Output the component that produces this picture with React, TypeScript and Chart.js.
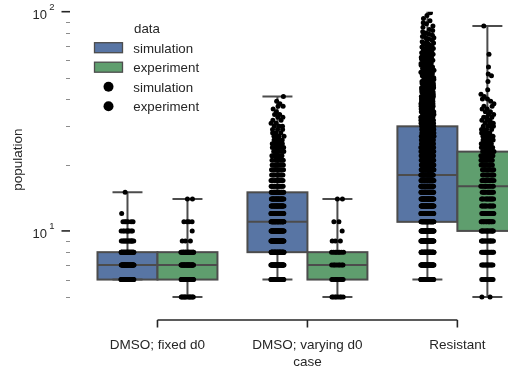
import React, { useEffect, useRef } from 'react';
import { Chart, registerables } from 'chart.js';

Chart.register(...registerables);

// ---------- data ----------
const categories = ['DMSO; fixed d0', 'DMSO; varying d0', 'Resistant'];
const hueNames = ['simulation', 'experiment'];
const hueColors = ['#5875A4', '#5F9E6E'];
const axisTitleX = 'case';
const axisTitleY = 'population';
const legendTitle = 'data';
const yMajorTicks = [10, 100];
const yMinorTicks = [5, 6, 7, 8, 9, 20, 30, 40, 50, 60, 70, 80, 90];

// population value -> number of observations
const fixedSimValues = [6, 7, 8, 9, 10, 11, 12, 15];
const fixedSimCounts = [38, 40, 35, 14, 9, 6, 1, 1];

const fixedExpValues = [5, 6, 7, 8, 9, 10, 11, 14];
const fixedExpCounts = [12, 25, 30, 25, 3, 1, 4, 2];

const varyingSimValues = [6, 7, 8, 9, 10, 11, 12, 13, 14, 15, 16, 17, 18, 19, 20, 21, 22, 23, 24, 25, 26, 27, 28, 29, 30, 31, 32, 33, 34, 35, 36, 37, 38, 39, 41];
const varyingSimCounts = [35, 45, 50, 45, 40, 38, 32, 28, 25, 22, 14, 12, 11, 9, 8, 7, 7, 6, 5, 5, 4, 4, 3, 3, 3, 2, 2, 2, 2, 1, 1, 2, 1, 1, 1];

const varyingExpValues = [5, 6, 7, 8, 9, 10, 11, 14];
const varyingExpCounts = [8, 10, 8, 8, 3, 1, 2, 2];

const resistantSimValues = [
  6, 7, 8, 9, 10, 11, 12, 13, 14, 15, 16, 17, 18, 19, 20, 21, 22, 23, 24, 25, 26, 27, 28, 29, 30,
  31, 32, 33, 34, 35, 36, 37, 38, 39, 40,
  41, 42, 43, 44, 45, 46, 47, 48, 49, 50,
  51, 52, 53, 54, 55, 56, 57, 58, 59, 60,
  61, 62, 63, 64, 65, 66, 67, 68, 69, 70,
  71, 72, 73, 74, 75, 76, 77, 78, 79, 80,
  81, 82, 83, 85, 86, 88, 89,
  91, 93, 96, 99, 104, 110,
];
const resistantSimCounts = [
  44, 48, 50, 50, 48, 40, 38, 37, 36, 35, 34, 33, 32, 29, 27, 25, 23, 21, 19, 17, 16, 15, 14, 13, 13,
  12, 12, 11, 11, 10, 9, 9, 9, 8, 8,
  8, 7, 6, 6, 6, 5, 5, 5, 5, 4,
  4, 4, 4, 4, 3, 3, 3, 3, 3, 3,
  3, 3, 3, 3, 2, 2, 2, 2, 2, 2,
  2, 2, 1, 2, 1, 2, 1, 1, 2, 1,
  1, 1, 1, 1, 1, 1, 1,
  1, 1, 1, 1, 1, 1,
];

const resistantExpValues = [5, 6, 7, 8, 9, 10, 11, 12, 13, 14, 15, 16, 17, 18, 19, 20, 21, 22, 23, 24, 25, 26, 27, 28, 29, 30, 31, 32, 33, 34, 35, 36, 37, 38, 39, 40, 41, 42, 44, 48, 51, 52, 56, 64, 86];
const resistantExpCounts = [2, 10, 12, 14, 15, 16, 14, 13, 12, 12, 11, 10, 11, 10, 10, 9, 9, 8, 8, 6, 6, 5, 5, 4, 4, 4, 3, 3, 3, 2, 2, 2, 2, 1, 1, 2, 1, 1, 1, 1, 1, 1, 1, 1, 1];

const seriesValues = [
  [fixedSimValues, fixedExpValues],
  [varyingSimValues, varyingExpValues],
  [resistantSimValues, resistantExpValues],
];
const seriesCounts = [
  [fixedSimCounts, fixedExpCounts],
  [varyingSimCounts, varyingExpCounts],
  [resistantSimCounts, resistantExpCounts],
];

// ---------- helpers ----------
const expand = (values: number[], counts: number[]) => {
  const out: number[] = [];
  values.forEach((v, i) => {
    for (let k = 0; k < counts[i]; k++) out.push(v);
  });
  return out.sort((a, b) => a - b);
};
const quantile = (sorted: number[], p: number) => {
  const pos = p * (sorted.length - 1);
  const lo = Math.floor(pos);
  const hi = Math.min(lo + 1, sorted.length - 1);
  return sorted[lo] + (pos - lo) * (sorted[hi] - sorted[lo]);
};
const frac = (v: number) => v - Math.floor(v);

const BOX_W = 0.4;
const JITTER = 0.044;
const hueOffset = (h: number) => (h === 0 ? -BOX_W / 2 : BOX_W / 2);

const boxStats = seriesValues.map((row, c) =>
  row.map((vals, h) => {
    const s = expand(vals, seriesCounts[c][h]);
    return {
      cat: c,
      hue: h,
      lo: s[0],
      q1: quantile(s, 0.25),
      med: quantile(s, 0.5),
      q3: quantile(s, 0.75),
      hi: s[s.length - 1],
    };
  })
).flat();

const stripPoints = (c: number, h: number) => {
  const pts: { x: number; y: number }[] = [];
  const vals = seriesValues[c][h];
  const cnts = seriesCounts[c][h];
  vals.forEach((v, i) => {
    const seed = frac(v * 0.754877 + h * 0.31);
    for (let k = 0; k < cnts[i]; k++) {
      const u = frac(seed + k * 0.618034);
      pts.push({ x: c + hueOffset(h) + JITTER * (2 * u - 1), y: v });
    }
  });
  return pts;
};

const TEXT = '#262626';
const LINE_GRAY = '#4C4C4C';
const FONT = '"Liberation Sans", Arial, sans-serif';

const boxPlugin = {
  id: 'boxes',
  beforeDatasetsDraw(chart: any) {
    const { ctx, chartArea, scales } = chart;
    const xs = scales.x;
    const ys = scales.y;
    ctx.save();
    ctx.beginPath();
    ctx.rect(chartArea.left, chartArea.top, chartArea.right - chartArea.left, chartArea.bottom - chartArea.top);
    ctx.clip();
    ctx.lineWidth = 2;
    ctx.strokeStyle = LINE_GRAY;
    boxStats.forEach((b) => {
      const cx = b.cat + hueOffset(b.hue);
      const xl = xs.getPixelForValue(cx - BOX_W / 2);
      const xr = xs.getPixelForValue(cx + BOX_W / 2);
      const xm = xs.getPixelForValue(cx);
      const cl = xs.getPixelForValue(cx - BOX_W / 4);
      const cr = xs.getPixelForValue(cx + BOX_W / 4);
      const yq1 = ys.getPixelForValue(b.q1);
      const yq3 = ys.getPixelForValue(b.q3);
      const ymed = ys.getPixelForValue(b.med);
      const ylo = ys.getPixelForValue(b.lo);
      const yhi = ys.getPixelForValue(b.hi);
      ctx.fillStyle = hueColors[b.hue];
      ctx.fillRect(xl, yq3, xr - xl, yq1 - yq3);
      ctx.strokeRect(xl, yq3, xr - xl, yq1 - yq3);
      ctx.beginPath();
      ctx.moveTo(xm, yq1); ctx.lineTo(xm, ylo);
      ctx.moveTo(xm, yq3); ctx.lineTo(xm, yhi);
      ctx.moveTo(cl, ylo); ctx.lineTo(cr, ylo);
      ctx.moveTo(cl, yhi); ctx.lineTo(cr, yhi);
      ctx.moveTo(xl, ymed); ctx.lineTo(xr, ymed);
      ctx.stroke();
    });
    ctx.restore();
  },
};

const axesPlugin = {
  id: 'axesAndLegend',
  afterDraw(chart: any) {
    const { ctx, chartArea, scales } = chart;
    const xs = scales.x;
    const ys = scales.y;
    const off = 12.5;
    ctx.save();
    // y axis ticks
    const yAxisX = chartArea.left - off;
    yMinorTicks.forEach((v) => {
      const py = Math.round(ys.getPixelForValue(v)) + 0.5;
      ctx.strokeStyle = '#8c8c8c';
      ctx.lineWidth = 1;
      ctx.beginPath();
      ctx.moveTo(yAxisX - 4, py);
      ctx.lineTo(yAxisX, py);
      ctx.stroke();
    });
    yMajorTicks.forEach((v) => {
      const py = ys.getPixelForValue(v);
      ctx.strokeStyle = TEXT;
      ctx.lineWidth = 1.6;
      ctx.beginPath();
      ctx.moveTo(yAxisX - 8.5, py);
      ctx.lineTo(yAxisX, py);
      ctx.stroke();
      const exp = String(Math.round(Math.log10(v)));
      ctx.fillStyle = TEXT;
      ctx.textBaseline = 'alphabetic';
      ctx.font = `13px ${FONT}`;
      ctx.textAlign = 'right';
      ctx.fillText('10', yAxisX - 23, py + 7.5);
      ctx.font = `9.5px ${FONT}`;
      ctx.textAlign = 'left';
      ctx.fillText(exp, yAxisX - 20.8, py - 2);
    });
    // x axis spine (trimmed) + ticks
    const spineY = chartArea.bottom + off;
    const x0 = xs.getPixelForValue(0);
    const x2 = xs.getPixelForValue(categories.length - 1);
    ctx.strokeStyle = TEXT;
    ctx.lineWidth = 1.6;
    ctx.beginPath();
    ctx.moveTo(x0, spineY);
    ctx.lineTo(x2, spineY);
    categories.forEach((_, i) => {
      const px = xs.getPixelForValue(i);
      ctx.moveTo(px, spineY);
      ctx.lineTo(px, spineY + 7.5);
    });
    ctx.stroke();
    ctx.fillStyle = TEXT;
    ctx.font = `13.5px ${FONT}`;
    ctx.textAlign = 'center';
    ctx.textBaseline = 'alphabetic';
    categories.forEach((lab, i) => {
      ctx.fillText(lab, xs.getPixelForValue(i), spineY + 29);
    });
    const midX = (xs.getPixelForValue(-0.5) + xs.getPixelForValue(categories.length - 0.5)) / 2;
    ctx.fillText(axisTitleX, midX, spineY + 46);
    // y title
    ctx.save();
    ctx.translate(18, (chartArea.top + chartArea.bottom) / 2);
    ctx.rotate(-Math.PI / 2);
    ctx.textBaseline = 'middle';
    ctx.fillText(axisTitleY, 0, 0);
    ctx.restore();

    // legend
    const lx = 94.5;
    const rowY = [47.7, 67.2, 86.8, 106.3];
    ctx.font = `13.3px ${FONT}`;
    ctx.textAlign = 'center';
    ctx.fillText(legendTitle, 147, 33.3);
    ctx.textAlign = 'left';
    const labels = [...hueNames, ...hueNames];
    labels.forEach((lab, i) => {
      const cy = rowY[i];
      if (i < 2) {
        ctx.fillStyle = hueColors[i];
        ctx.fillRect(lx, cy - 5, 28, 10);
        ctx.strokeStyle = LINE_GRAY;
        ctx.lineWidth = 1.3;
        ctx.strokeRect(lx, cy - 5, 28, 10);
      } else {
        ctx.fillStyle = '#000';
        ctx.beginPath();
        ctx.arc(lx + 14, cy, 5, 0, Math.PI * 2);
        ctx.fill();
      }
      ctx.fillStyle = TEXT;
      ctx.fillText(lab, 133.3, cy + 4.8);
    });
    ctx.restore();
  },
};

export default function App() {
  const ref = useRef<HTMLCanvasElement | null>(null);
  useEffect(() => {
    if (!ref.current) return;
    const datasets: any[] = [];
    categories.forEach((_, c) => {
      hueNames.forEach((name, h) => {
        datasets.push({
          label: `${categories[c]} ${name}`,
          data: stripPoints(c, h),
          pointRadius: 2.5,
          pointBackgroundColor: '#000',
          pointBorderWidth: 0,
          showLine: false,
        });
      });
    });
    const chart = new Chart(ref.current, {
      type: 'scatter',
      data: { datasets },
      options: {
        animation: false,
        responsive: false,
        events: [],
        layout: { padding: { left: 82.5, top: 11.7, right: 0, bottom: 67.5 } },
        plugins: { legend: { display: false }, tooltip: { enabled: false } },
        scales: {
          x: { type: 'linear', display: false, min: -0.5, max: 2.3375 },
          y: { type: 'logarithmic', display: false, min: 4.474, max: 100 },
        },
      },
      plugins: [boxPlugin, axesPlugin],
    });
    return () => chart.destroy();
  }, []);
  return (
    <div style={{ position: 'absolute', left: 0, top: 0, width: 512, height: 375, background: '#fff' }}>
      <canvas ref={ref} width={512} height={375} style={{ display: 'block' }} />
    </div>
  );
}
